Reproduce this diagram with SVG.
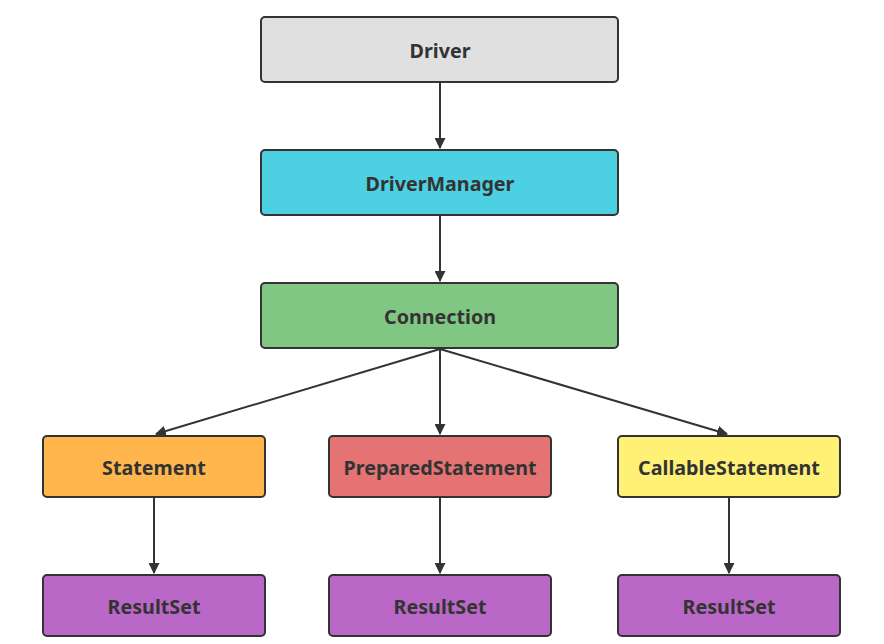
<svg xmlns="http://www.w3.org/2000/svg" width="884" height="644" viewBox="0 0 884 644">
<style>
.box{stroke:#333;stroke-width:2}
.lbl{font-family:"Noto Sans","Open Sans","Liberation Sans",sans-serif;font-weight:bold;font-size:19.7px;fill:#333;text-anchor:middle;dominant-baseline:central}
.edge{stroke:#333;stroke-width:2;fill:none;marker-end:url(#arr)}
</style>
<defs>
<marker id="arr" viewBox="0 0 10 10" refX="9" refY="5" markerWidth="5.5" markerHeight="5.5" orient="auto" markerUnits="strokeWidth">
<path d="M0,0 L10,5 L0,10 z" fill="#333"/>
</marker>
</defs>
<rect width="884" height="644" fill="#fff"/>
<g id="connectors">
<line class="edge" x1="440" y1="83" x2="440" y2="148"/>
<line class="edge" x1="440" y1="216" x2="440" y2="281"/>
<line class="edge" x1="440" y1="349" x2="156" y2="434"/>
<line class="edge" x1="440" y1="349" x2="440" y2="434"/>
<line class="edge" x1="440" y1="349" x2="727" y2="434"/>
<line class="edge" x1="154" y1="498" x2="154" y2="573"/>
<line class="edge" x1="440" y1="498" x2="440" y2="573"/>
<line class="edge" x1="729" y1="498" x2="729" y2="573"/>
</g>
<g id="driver"><rect class="box" x="261" y="17" width="357" height="65" rx="4" fill="#e0e0e0"/><text class="lbl" x="440" y="50">Driver</text></g>
<g id="drivermanager"><rect class="box" x="261" y="150" width="357" height="65" rx="4" fill="#4dd0e1"/><text class="lbl" x="440" y="183">DriverManager</text></g>
<g id="connection"><rect class="box" x="261" y="283" width="357" height="65" rx="4" fill="#81c784"/><text class="lbl" x="440" y="316">Connection</text></g>
<g id="statement"><rect class="box" x="43" y="436" width="222" height="61" rx="4" fill="#ffb74d"/><text class="lbl" x="154" y="467">Statement</text></g>
<g id="preparedstatement"><rect class="box" x="329" y="436" width="222" height="61" rx="4" fill="#e57373"/><text class="lbl" x="440" y="467">PreparedStatement</text></g>
<g id="callablestatement"><rect class="box" x="618" y="436" width="222" height="61" rx="4" fill="#fff176"/><text class="lbl" x="729" y="467">CallableStatement</text></g>
<g id="resultset1"><rect class="box" x="43" y="575" width="222" height="61" rx="4" fill="#ba68c8"/><text class="lbl" x="154" y="606">ResultSet</text></g>
<g id="resultset2"><rect class="box" x="329" y="575" width="222" height="61" rx="4" fill="#ba68c8"/><text class="lbl" x="440" y="606">ResultSet</text></g>
<g id="resultset3"><rect class="box" x="618" y="575" width="222" height="61" rx="4" fill="#ba68c8"/><text class="lbl" x="729" y="606">ResultSet</text></g>
</svg>
